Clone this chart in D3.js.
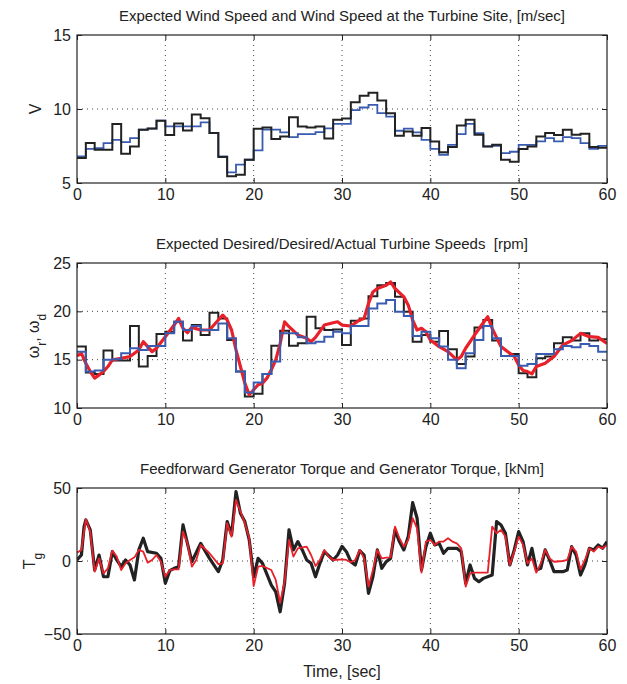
<!DOCTYPE html>
<html>
<head>
<meta charset="utf-8">
<script src="https://d3js.org/d3.v7.min.js"></script>
<style>
  body { margin: 0; background: #fff; }
  text { font-family: "Liberation Sans", Arial, Helvetica, sans-serif; fill: #222; }
</style>
</head>
<body>
<div id="chart"></div>
<script>
// ---- data ----
// wind speed, one value per second (step)
var windActual = [6.69,7.70,7.25,7.25,8.98,6.98,7.47,8.60,8.69,9.20,8.24,9.02,8.55,9.63,9.38,8.37,6.75,5.45,5.56,6.57,
                  8.66,8.75,7.97,8.15,9.45,8.82,8.75,8.82,8.01,9.27,9.36,10.46,10.89,11.09,10.57,9.72,8.19,8.48,8.19,8.71,
                  7.81,7.07,7.43,8.89,9.27,8.26,7.47,7.58,6.57,6.44,7.29,7.47,8.15,8.37,8.24,8.60,8.26,8.33,7.43,7.38];
var windExpected = [6.80,7.31,7.35,7.70,7.92,7.76,8.03,8.60,8.67,9.22,8.82,8.82,8.82,8.82,9.09,8.37,6.80,5.72,6.24,6.57,
                    7.20,8.60,8.60,8.42,8.10,8.30,8.30,8.44,8.69,9.00,9.00,9.92,10.10,10.28,9.72,9.49,8.53,8.67,8.42,7.92,
                    7.31,6.91,7.58,8.30,9.00,8.37,7.47,7.51,7.02,7.11,7.58,7.58,7.81,8.03,7.81,8.10,8.03,7.70,7.31,7.51];

// turbine speeds [rpm]
var speedDesired = [16.35,13.67,13.53,15.94,14.91,14.91,18.48,14.29,15.39,17.65,17.89,18.92,16.97,18.58,17.55,19.85,19.27,17.04,13.77,11.20,
                    11.47,13.53,16.45,18.00,16.45,16.69,19.44,18.24,18.07,18.13,16.52,19.03,19.27,21.57,22.70,22.94,21.50,19.95,16.86,17.55,
                    16.86,17.96,16.07,14.56,15.32,18.34,19.10,16.97,15.39,15.59,13.60,13.19,15.15,15.32,16.69,17.31,16.97,17.72,16.97,17.10];
var speedExpected = [15.83,13.77,13.88,14.98,15.05,15.66,16.18,16.01,16.42,16.42,17.72,18.92,18.07,18.48,18.07,18.07,18.75,17.21,13.77,11.61,
                     12.64,13.53,14.80,17.72,17.72,17.31,16.69,16.86,17.38,17.89,17.72,18.48,18.48,20.30,20.81,21.16,19.95,19.51,17.45,17.89,
                     17.21,16.35,14.98,14.12,15.66,17.04,18.48,17.21,15.39,15.39,14.36,14.56,15.59,15.59,16.07,16.42,16.28,16.62,16.42,15.83];
var actualTime = [0,0.5,1,1.5,2,2.5,3,3.5,4,5,6,7,7.5,8,8.5,9,10,11,11.5,12,12.5,13,14,15,16,16.5,17,17.5,18,18.5,19,19.5,20,20.5,21,21.5,22,22.5,23,23.5,24,25,26,26.5,27,28,29,29.5,
                  30,31,32,32.5,33,33.5,34,35,35.5,36,37,37.5,38,38.5,39,39.5,40,41,42,43,43.5,44,45,46,46.5,47,48,49,49.5,50,50.5,51,51.5,52,53,54,55,56,57,58,59,60];
var speedActual = [15.39,15.66,14.63,13.77,13.09,13.43,13.77,14.29,14.98,15.15,15.32,16.01,16.86,16.35,15.83,16.18,17.38,18.58,19.27,18.24,17.79,18.34,18.07,18.07,19.10,19.61,19.10,18.07,16.01,14.29,12.57,11.37,11.89,12.40,12.57,13.09,13.95,14.98,16.69,18.92,18.41,17.55,17.21,16.86,17.31,18.58,18.82,18.92,
                   18.58,18.48,19.10,19.27,20.81,22.01,22.36,22.70,23.04,22.36,21.50,20.64,19.10,18.07,18.24,17.89,17.04,16.35,15.83,14.98,15.32,16.18,17.55,18.82,19.44,18.24,16.35,15.66,15.32,14.46,13.88,13.77,13.53,14.29,14.63,15.32,16.52,16.97,17.72,17.38,17.31,16.69];

// generator torque [kNm]
var torqueTime = [0,0.5,0.8,1,1.5,2,2.5,3,3.5,4,4.5,5,5.5,6,6.5,7,7.5,8,9,9.5,10,10.5,11,11.5,12,12.5,13,14,15,16,16.5,17,17.5,18,18.5,19,19.5,20,20.5,21,22,22.5,23,23.5,24,24.5,25,25.5,26,26.5,27,27.5,28,29,29.5,
                  30,30.5,31,31.5,32,32.5,33,33.5,34,34.5,35,35.5,36,36.5,37,37.5,38,38.5,39,39.5,40,40.5,41,41.5,42,43,43.5,44,44.5,45,45.5,46,47,47.5,48,48.5,49,49.5,50,50.5,51,51.5,52,52.5,53,53.5,54,55,55.5,56,56.5,57,57.5,58,58.5,59,59.5,60];
var torqueActual = [0.7,4.1,23.6,28.1,21.3,-6.2,4.1,-10.8,-10.8,6.4,0.7,-3.9,0.7,-2.7,-13,7.6,15.6,6.4,5.3,1.8,-15.3,-6.6,-5,-4,24.7,12.1,-0.5,12.1,1.8,-7.3,0.7,27,17.8,47.6,32.7,27,14.4,-10.8,1.8,-1.6,-16.5,-21.1,-34.8,-15.3,21.3,7.6,13.3,7.6,0.7,-1.6,-10.8,-1.6,6.4,0.7,4.1,
                    10,6.4,-0.5,-2.7,7.1,4.1,-22.2,-10.8,7.6,-5,-0.5,1.8,21.3,13.3,7.6,16.7,40,29.3,-6.2,9.8,19,11,12.1,5.3,8.7,8.7,6.4,-15.3,-2.7,-11.9,-14.2,-11.9,-9.6,27,24.7,19,-2.7,7.6,20.1,13.3,-2.7,8.7,-6.2,-5,7.6,0.7,-7.3,-7.3,-6.2,9.8,4.1,-9.6,-2.7,8.7,7.6,11,8.7,13.3];
var ffTime = [0,0.5,1,1.5,2,2.5,3,3.5,4,4.5,5,5.5,6,6.5,7,7.5,8,8.5,9,9.5,10,10.5,11,11.5,12,12.5,13,13.5,14,15,16,16.5,17,17.5,18,18.5,19,19.5,20,20.5,21,22,22.5,23,23.5,24,24.5,25,26,26.5,27,27.5,28,28.5,29,
              30,30.5,31,31.5,32,32.5,33,33.5,34,34.5,35,35.5,36,36.5,37,37.5,38,38.5,39,39.5,40,40.5,41,41.5,42,42.5,43,43.5,44,44.5,45,46,46.5,47,47.5,48,48.5,49,49.5,50,50.5,51,51.5,52,52.5,53,53.5,54,55,55.5,56,56.5,57,57.5,58,58.5,59,59.5,60];
var torqueFeedforward = [5.7,7.6,28.6,20.1,-7.3,1.8,-8.5,-5,7.1,3,-6.2,-1.6,0.7,2.5,7.6,6.4,-1.1,0.7,4.1,-0.5,-10.8,-6.2,-5.7,-5.7,20.1,12.1,-3.9,0.7,11,5.3,-2.1,-1.6,25.9,16.7,41.9,33.9,25.9,15.6,-17.2,-3.9,-3.4,-6.2,-13,-28.6,-14.2,14.4,3,8.7,9.8,4.1,-3.4,0.7,7.6,3,0.7,
                         1.1,0.7,-0.9,0.7,7.6,1.8,-17.6,-6.2,7.6,1.8,2.3,2.5,23.6,15.6,9.8,14.4,29.3,22.4,-8,13.3,14.4,11,13.3,13.3,15.6,13.3,12.1,8.7,-17.6,-8.5,-8,-8,-8,23.6,19,21.3,16.7,-2.7,6.4,16.7,11,-1.6,1.8,-8,-1.6,7.6,1.8,-0.5,0,0.7,9.8,6.4,-5.7,0.7,8.7,6.4,9.8,8.7,11];

var timeTicks = [0,10,20,30,40,50,60];
var seconds = d3.range(0, 61);

// ---- layout ----
var W = 627, H = 684;
var left = 77, right = 607;
var svg = d3.select("#chart").append("svg").attr("width", W).attr("height", H);

var x = d3.scaleLinear().domain([0, 60]).range([left, right]);

var BLACK = "#222222", BLUE = "#3a5cb0", RED = "#e8202a";

function panel(top, bottom, yDomain, yTicks, gridY, title) {
    var y = d3.scaleLinear().domain(yDomain).range([bottom, top]);
    var g = svg.append("g");
    var clipId = "clip" + top;
    svg.append("clipPath").attr("id", clipId).append("rect")
        .attr("x", left).attr("y", top).attr("width", right - left).attr("height", bottom - top);

    // dotted grid
    g.selectAll(".gx").data(timeTicks.slice(1, -1)).enter().append("line")
        .attr("x1", d => x(d)).attr("x2", d => x(d)).attr("y1", top).attr("y2", bottom)
        .attr("stroke", "#444").attr("stroke-width", 1).attr("stroke-dasharray", "1,4");
    g.selectAll(".gy").data(gridY).enter().append("line")
        .attr("x1", left).attr("x2", right).attr("y1", d => y(d)).attr("y2", d => y(d))
        .attr("stroke", "#444").attr("stroke-width", 1).attr("stroke-dasharray", "1,4");

    // axes (ticks inward, like matlab)
    var ax = svg.append("g").attr("class", "axes");
    ax.append("g").attr("transform", "translate(0," + bottom + ")")
        .call(d3.axisBottom(x).tickValues(timeTicks).tickSizeInner(-5).tickSizeOuter(0).tickPadding(6));
    ax.append("g").attr("transform", "translate(0," + top + ")")
        .call(d3.axisTop(x).tickValues(timeTicks).tickSizeInner(-5).tickSizeOuter(0).tickFormat(""));
    ax.append("g").attr("transform", "translate(" + left + ",0)")
        .call(d3.axisLeft(y).tickValues(yTicks).tickSizeInner(-5).tickSizeOuter(0).tickPadding(6)
            .tickFormat(d => d < 0 ? "\u2212" + Math.abs(d) : d));
    ax.append("g").attr("transform", "translate(" + right + ",0)")
        .call(d3.axisRight(y).tickValues(yTicks).tickSizeInner(-5).tickSizeOuter(0).tickFormat(""));
    ax.selectAll(".domain").remove();
    ax.selectAll("line").attr("stroke", "#222");
    ax.selectAll("text").style("font-size", "16px").attr("fill", "#222");

    // title
    svg.append("text").attr("x", (left + right) / 2).attr("y", top - 14)
        .attr("text-anchor", "middle").style("font-size", "15px")
        .style("white-space", "pre").text(title);

    var plot = svg.append("g").attr("clip-path", "url(#" + clipId + ")");
    return {y: y, plot: plot, top: top, bottom: bottom};
}

function stepLine(p, vals, color, w) {
    var pts = seconds.map((t, i) => [t, vals[Math.min(i, vals.length - 1)]]);
    var line = d3.line().x(d => x(d[0])).y(d => p.y(d[1])).curve(d3.curveStepAfter);
    p.plot.append("path").datum(pts).attr("d", line).attr("fill", "none")
        .attr("stroke", color).attr("stroke-width", w).attr("stroke-linejoin", "miter");
}

function plainLine(p, ts, vals, color, w) {
    var pts = ts.map((t, i) => [t, vals[i]]);
    var line = d3.line().x(d => x(d[0])).y(d => p.y(d[1]));
    p.plot.append("path").datum(pts).attr("d", line).attr("fill", "none")
        .attr("stroke", color).attr("stroke-width", w).attr("stroke-linejoin", "round");
}

function frame(p) {
    svg.append("rect").attr("x", left).attr("y", p.top).attr("width", right - left)
        .attr("height", p.bottom - p.top).attr("fill", "none").attr("stroke", "#222").attr("stroke-width", 1.2);
}

// panel 1
var p1 = panel(35, 183, [5, 15], [5, 10, 15], [10],
    "Expected Wind Speed and Wind Speed at the Turbine Site, [m/sec]");
stepLine(p1, windExpected, BLUE, 1.8);
stepLine(p1, windActual, BLACK, 2);
frame(p1);
svg.append("text").attr("transform", "translate(41,109) rotate(-90)")
    .attr("text-anchor", "middle").style("font-size", "16px").text("V");

// panel 2
var p2 = panel(263, 408, [10, 25], [10, 15, 20, 25], [15, 20],
    "Expected Desired/Desired/Actual Turbine Speeds\u00a0\u00a0[rpm]");
stepLine(p2, speedDesired, BLACK, 2);
plainLine(p2, actualTime, speedActual, RED, 3.2);
stepLine(p2, speedExpected, BLUE, 2);
frame(p2);
var om = svg.append("text").attr("transform", "translate(39,336) rotate(-90)")
    .attr("text-anchor", "middle").style("font-size", "16px");
om.append("tspan").text("\u03c9");
om.append("tspan").attr("baseline-shift", "sub").style("font-size", "12px").text("r");
om.append("tspan").text(", \u03c9");
om.append("tspan").attr("baseline-shift", "sub").style("font-size", "12px").text("d");

// panel 3
var p3 = panel(488, 634, [-50, 50], [-50, 0, 50], [0],
    "Feedforward Generator Torque and Generator Torque, [kNm]");
plainLine(p3, torqueTime, torqueActual, BLACK, 3.2);
plainLine(p3, ffTime, torqueFeedforward, RED, 1.8);
frame(p3);
var tg = svg.append("text").attr("transform", "translate(35,561) rotate(-90)")
    .attr("text-anchor", "middle").style("font-size", "16px");
tg.append("tspan").text("T");
tg.append("tspan").attr("baseline-shift", "sub").style("font-size", "12px").text("g");

svg.append("text").attr("x", (left + right) / 2).attr("y", 677)
    .attr("text-anchor", "middle").style("font-size", "16px").text("Time, [sec]");
</script>
</body>
</html>
